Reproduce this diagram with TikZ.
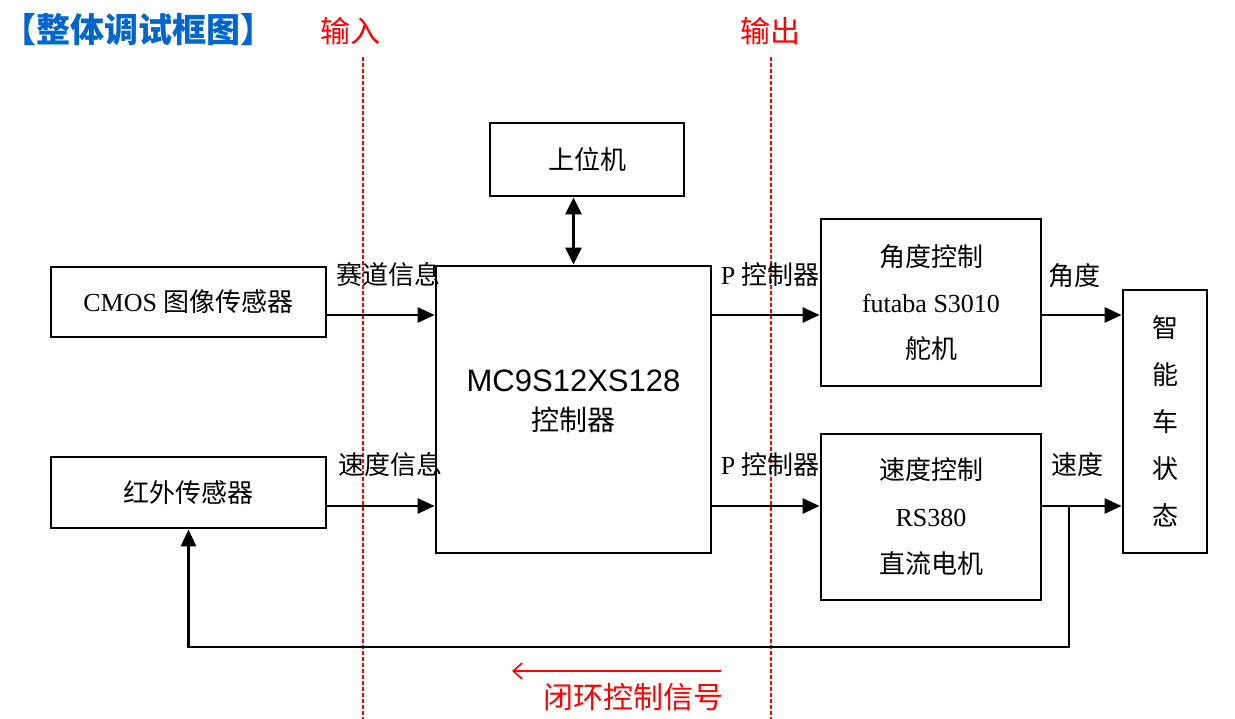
\documentclass[tikz,border=0pt]{standalone}
\usepackage{fontspec}
\setmainfont{Liberation Serif}
\newfontfamily\cjk{Noto Sans CJK SC}
\newfontfamily\sans{Liberation Sans}
\usetikzlibrary{arrows.meta,calc}
\definecolor{titleblue}{RGB}{0,102,204}
\definecolor{pured}{RGB}{255,0,0}
\begin{document}
\begin{tikzpicture}[x=1pt,y=-1pt,
  blk/.style={draw=black,line width=2.8pt,rectangle,inner sep=0pt,align=center,fill=white},
  lbl/.style={inner sep=0pt,font=\fontsize{26}{30}\selectfont\cjk},
  conn/.style={line width=2.8pt,-{Triangle[length=17pt,width=15pt]}},
  guide/.style={color=pured,line width=1.3pt,dash pattern=on 4pt off 2pt},
  redtxt/.style={inner sep=0pt,text=pured,font=\fontsize{30}{34}\selectfont\cjk}]
\useasboundingbox (0,0) rectangle (1235,719);
\fill[white] (0,0) rectangle (1235,719);

% title and guides
\node[anchor=west,inner sep=0pt,text=titleblue,font=\fontsize{34}{40}\selectfont\cjk\bfseries] (title) at (2,30) {【整体调试框图】};
\node[redtxt] (inl) at (350,31) {输入};
\node[redtxt] (outl) at (770,31) {输出};
\coordinate (g1t) at (363,57); \coordinate (g1b) at (363,719);
\coordinate (g2t) at (771,57); \coordinate (g2b) at (771,719);

% boxes
\node[blk,minimum width=275pt,minimum height=70pt,font=\fontsize{26}{30}\selectfont] (cmos) at (188.5,302)
  {CMOS {\cjk 图像传感器}};
\node[blk,minimum width=275pt,minimum height=71pt,font=\fontsize{26}{30}\selectfont\cjk] (ir) at (188.5,492.5)
  {红外传感器};
\node[blk,minimum width=275pt,minimum height=287pt] (mcu) at (573.5,409.5) {};
\node[inner sep=0pt,align=center,font=\fontsize{31}{36}\selectfont] (mcutext) at (573.5,401)
  {{\sans MC9S12XS128}\\[3pt]{\fontsize{28}{32}\selectfont\cjk 控制器}};
\node[blk,minimum width=194pt,minimum height=73pt,font=\fontsize{26}{30}\selectfont\cjk] (upc) at (587,159.5)
  {上位机};
\node[blk,minimum width=220pt,minimum height=167pt,font=\fontsize{26}{46}\selectfont] (ang) at (931,302.5)
  {{\cjk 角度控制}\\ futaba S3010\\ {\cjk 舵机}};
\node[blk,minimum width=220pt,minimum height=166pt,font=\fontsize{26}{47}\selectfont] (spd) at (931,517)
  {{\cjk 速度控制}\\ RS380\\ {\cjk 直流电机}};
\node[blk,minimum width=84pt,minimum height=263pt,font=\fontsize{26}{47}\selectfont\cjk] (car) at (1165,421.5)
  {智\\能\\车\\状\\态};

% guides drawn over
\draw[guide] (g1t) -- (g1b);
\draw[guide] (g2t) -- (g2b);

% connector levels
\coordinate (r1) at (0,315);
\coordinate (r2) at (0,506);
\coordinate (fb) at (1069,647);

\draw[conn] (cmos.east |- r1) -- (mcu.west |- r1);
\draw[conn] (ir.east |- r2) -- (mcu.west |- r2);
\draw[conn] (mcu.east |- r1) -- (ang.west |- r1);
\draw[conn] (mcu.east |- r2) -- (spd.west |- r2);
\draw[conn] (ang.east |- r1) -- (car.west |- r1);
\draw[conn] (spd.east |- r2) -- (car.west |- r2);
\draw[line width=2.8pt,{Triangle[length=17pt,width=16pt]}-{Triangle[length=17pt,width=16pt]}] (mcu.north) -- (mcu.north |- upc.south);
\draw[conn] (fb |- r2) -- (fb) -| (ir.south);

% labels
\node[lbl] (l1) at (388,275) {赛道信息};
\node[lbl] (l2) at (390,465) {速度信息};
\node[lbl] (l3) at (770,275) {{\rmfamily P} 控制器};
\node[lbl] (l4) at (770,465) {{\rmfamily P} 控制器};
\node[lbl] (l5) at (1074,276) {角度};
\node[lbl] (l6) at (1077,465) {速度};

% closed loop arrow
\coordinate (ra1) at (721,671);
\coordinate (ra2) at (512,671);
\draw[pured,line width=1.6pt,-{Straight Barb[length=9pt,width=16pt]}] (ra1) -- (ra2);
\node[redtxt] (loop) at (633,697) {闭环控制信号};
\end{tikzpicture}
\end{document}
